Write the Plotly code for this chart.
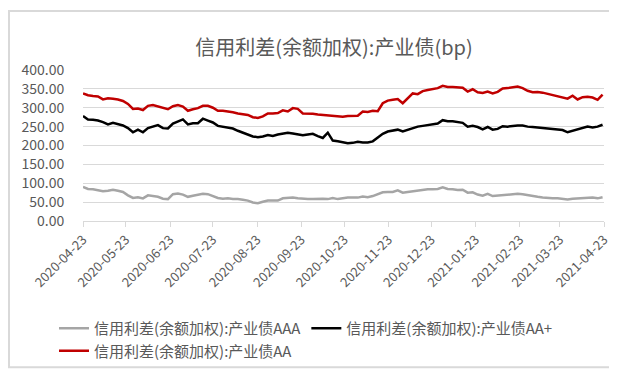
import pandas as pd
import plotly.graph_objects as go

start_date = "2020-04-23"
end_date = "2021-04-22"

aaa_values = [90, 85, 84, 81, 79, 80, 83, 80, 77, 68, 61, 63, 60, 68, 67, 64, 59, 58, 71, 73,
              70, 64, 67, 70, 72, 71, 66, 61, 59, 60, 58, 58, 56, 54, 49, 47, 51, 54, 54, 54,
              60, 62, 62, 60, 58, 58, 58, 59, 59, 58,
              61, 58, 61, 62, 62, 62, 65, 63, 66, 71, 76, 77, 77, 81, 75, 77, 79, 80, 82, 84,
              84, 85, 89, 85, 84, 82, 83, 75, 76, 70, 67, 72, 66, 67, 70, 71, 71, 72, 71, 68,
              66, 64, 62, 60, 60, 60, 59, 57, 59, 60, 60, 61, 62, 60, 63]

aa_plus_values = [278, 269, 268, 266, 262, 256, 260, 256, 253, 246, 235, 242, 235, 246, 251, 254, 246, 245, 258, 263,
                  269, 256, 259, 259, 271, 266, 261, 252, 249, 247, 245, 239, 234, 230, 224, 222, 224, 228, 225, 229,
                  232, 234, 232, 229, 227, 229, 231, 225, 220, 234,
                  213, 211, 209, 206, 207, 210, 208, 208, 211, 222, 231, 237, 239, 242, 237, 242, 247, 250, 252, 254,
                  255, 258, 267, 264, 264, 261, 260, 250, 252, 249, 243, 249, 242, 244, 251, 250, 252, 253, 253, 250,
                  249, 248, 246, 245, 244, 243, 241, 235, 239, 242, 246, 250, 248, 250, 255]

aa_values = [338, 333, 331, 330, 322, 325, 324, 322, 318, 310, 297, 298, 294, 305, 307, 304, 299, 296, 304, 307,
             303, 292, 296, 299, 305, 305, 300, 292, 292, 291, 288, 285, 284, 281, 275, 273, 277, 285, 285, 286,
             293, 290, 299, 297, 285, 285, 284, 282, 281, 279,
             278, 277, 276, 278, 279, 279, 290, 289, 292, 291, 312, 319, 321, 323, 312, 325, 338, 336, 344, 347,
             349, 352, 358, 355, 355, 353, 353, 343, 349, 341, 339, 343, 338, 342, 351, 352, 354, 356, 352, 345,
             341, 342, 340, 337, 334, 332, 329, 324, 332, 322, 328, 329, 327, 321, 335]

tick_labels = ["2020-04-23", "2020-05-23", "2020-06-23", "2020-07-23", "2020-08-23", "2020-09-23",
               "2020-10-23", "2020-11-23", "2020-12-23", "2021-01-23", "2021-02-23", "2021-03-23",
               "2021-04-23"]

series_names = ["信用利差(余额加权):产业债AAA", "信用利差(余额加权):产业债AA+", "信用利差(余额加权):产业债AA"]
series_colors = ["#A5A5A5", "#000000", "#C00000"]

dates = pd.date_range(start_date, end_date, periods=len(aa_values))

font_family = "Noto Sans CJK SC, Noto Sans, sans-serif"

fig = go.Figure()
for name, vals, col in zip(series_names, [aaa_values, aa_plus_values, aa_values], series_colors):
    fig.add_trace(go.Scatter(x=dates, y=vals, mode="lines", name=name,
                             line=dict(color=col, width=2.5)))

W, H = 617, 371
ml, mr, mt, mb = 75, 21, 62, 153
pw, ph = W - ml - mr, H - mt - mb

def px_x(x):
    return (x - ml) / pw

def px_y(y):
    return (H - mb - y) / ph

fig.update_layout(
    width=W, height=H,
    margin=dict(l=ml, r=mr, t=mt, b=mb),
    paper_bgcolor="white", plot_bgcolor="white",
    font=dict(family=font_family, color="#595959", size=13),
    title=dict(text="信用利差(余额加权):产业债(bp)", x=326 / W, xanchor="center",
               y=1 - 40 / H, yanchor="middle",
               font=dict(size=20, color="#595959", family=font_family)),
    showlegend=True,
    legend=dict(orientation="h", x=px_x(46), y=px_y(312), xanchor="left", yanchor="top",
                font=dict(size=15, color="#595959"), tracegroupgap=0,
                bgcolor="rgba(0,0,0,0)"),
    xaxis=dict(type="date", range=[start_date, "2021-04-23"],
               tickvals=tick_labels, ticktext=tick_labels, tickangle=-45,
               showgrid=False, showline=True, linecolor="#D9D9D9", linewidth=1,
               ticks="outside", ticklen=5, tickcolor="#D9D9D9",
               tickfont=dict(size=13, color="#595959"), zeroline=False),
    yaxis=dict(range=[0, 400], tickvals=[0, 50, 100, 150, 200, 250, 300, 350, 400],
               tickformat=".2f", showgrid=True, gridcolor="#D9D9D9", gridwidth=1,
               zeroline=False, showline=False, ticks="outside", ticklen=15,
               tickcolor="rgba(0,0,0,0)",
               tickfont=dict(size=14, color="#595959")),
    shapes=[dict(type="rect", xref="paper", yref="paper",
                 x0=px_x(1), x1=px_x(615), y0=px_y(369), y1=px_y(1),
                 line=dict(color="#D9D9D9", width=2), fillcolor="rgba(0,0,0,0)", layer="below")],
)

fig.write_html("out.html")
